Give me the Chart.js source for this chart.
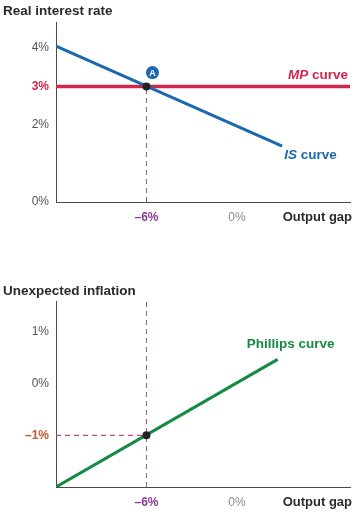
<!DOCTYPE html>
<html>
<head>
<meta charset="utf-8">
<script src="https://cdn.jsdelivr.net/npm/chart.js@4.4.1/dist/chart.umd.min.js"></script>
<style>
  body { margin: 0; background: #fff; width: 358px; height: 516px; overflow: hidden; }
  canvas { position: absolute; left: 0; }
  #isChart { top: 0; }
  #pcChart { top: 258px; }
</style>
</head>
<body>
<canvas id="isChart" width="358" height="230"></canvas>
<canvas id="pcChart" width="358" height="258"></canvas>
<script>
// Output gap axis (shared)
const gapRange = [-12, 7.5];
const gapTicks = [-6, 0];

// Top panel: IS / MP
const rateRange = [0, 4.68];
const rateTicks = [0, 2, 3, 4];
const isGap = [-12, 3];
const isRate = [4.05, 1.45];
const mpGap = [-12, 7.5];
const mpRate = [3, 3];
const pointA = { gap: -6, rate: 3 };

// Bottom panel: Phillips curve
const inflRange = [-2, 1.6];
const inflTicks = [-1, 0, 1];
const pcGap = [-12, 2.7];
const pcInfl = [-2, 0.47];
const pointB = { gap: -6, infl: -1 };

const BLUE = '#1a68b0', RED = '#d0284c', GREEN = '#148a45';
const PURPLE = '#9a4fa0', PURPLE_TXT = '#8b3a94', MAUVE = '#b5507a', ORANGE = '#c5582c';
const AXIS = '#4a4a4a', TICK = '#555';
const FONT = "'Liberation Sans', Arial, sans-serif";
const LBL = 'bold 13.5px ' + FONT, LBL_IT = 'italic bold 13.5px ' + FONT;

const pts = (xs, ys) => xs.map((x, i) => ({ x: x, y: ys[i] }));
const pct = v => (v < 0 ? '\u2013' + Math.abs(v) : v) + '%';

function xAxis(h) {
    return {
        type: 'linear', min: gapRange[0], max: gapRange[1],
        grid: { display: false, drawTicks: false },
        border: { display: true, color: AXIS, width: 1 },
        afterBuildTicks: s => { s.ticks = gapTicks.map(v => ({ value: v })); },
        afterFit: s => { s.height = h; },
        ticks: {
            padding: 8,
            callback: pct,
            color: c => c.tick && c.tick.value === -6 ? PURPLE_TXT : '#888',
            font: c => ({ family: FONT, size: 12, weight: c.tick && c.tick.value === -6 ? 'bold' : 'normal' })
        }
    };
}

function yAxis(range, ticks, hi, hiColor) {
    return {
        type: 'linear', min: range[0], max: range[1],
        grid: { display: false, drawTicks: false },
        border: { display: true, color: AXIS, width: 1 },
        afterBuildTicks: s => { s.ticks = ticks.map(v => ({ value: v })); },
        afterFit: s => { s.width = 56; },
        ticks: {
            padding: 7,
            callback: pct,
            color: c => c.tick && c.tick.value === hi ? hiColor : TICK,
            font: c => ({ family: FONT, size: 12, weight: c.tick && c.tick.value === hi ? 'bold' : 'normal' })
        }
    };
}

function text(ctx, str, x, y, font, color, align) {
    ctx.font = font;
    ctx.fillStyle = color;
    ctx.textAlign = align || 'left';
    ctx.textBaseline = 'middle';
    ctx.fillText(str, x, y);
}

const lineDs = (data, color, width, dash) => ({
    data: data, borderColor: color, borderWidth: width, borderDash: dash || [],
    pointRadius: 0, fill: false, tension: 0
});
const dotDs = (p) => ({
    data: [p], pointRadius: 4, pointBackgroundColor: '#222', pointBorderWidth: 0, showLine: false
});

// Set up the IS / MP chart
new Chart(document.getElementById('isChart'), {
    type: 'scatter',
    data: {
        datasets: [
            dotDs({ x: pointA.gap, y: pointA.rate }),
            lineDs(pts(isGap, isRate), BLUE, 3),
            lineDs(pts(mpGap, mpRate), RED, 3.5),
            lineDs([{ x: pointA.gap, y: 0 }, { x: pointA.gap, y: pointA.rate }], PURPLE, 1, [5, 4])
        ]
    },
    options: {
        responsive: false, animation: false, showLine: true,
        layout: { padding: { top: 22, right: 8, left: 0, bottom: 0 } },
        plugins: { legend: { display: false }, tooltip: { enabled: false } },
        scales: { x: xAxis(28), y: yAxis(rateRange, rateTicks, 3, RED) }
    },
    plugins: [{
        id: 'isLabels',
        afterDraw(chart) {
            const ctx = chart.ctx, x = chart.scales.x, y = chart.scales.y;
            ctx.save();
            text(ctx, 'Real interest rate', 3, 11, LBL, '#2b2b2b');
            text(ctx, 'Output gap', 352, y.bottom + 15, 'bold 13px ' + FONT, '#2b2b2b', 'right');
            // MP label
            const my = y.getPixelForValue(mpRate[1]) - 11;
            ctx.font = LBL;
            const cw = ctx.measureText(' curve').width;
            text(ctx, ' curve', 348, my, LBL, RED, 'right');
            text(ctx, 'MP', 348 - cw, my, LBL_IT, RED, 'right');
            // IS label
            const ix = x.getPixelForValue(isGap[1]) + 2, iy = y.getPixelForValue(isRate[1]) + 9;
            ctx.font = LBL_IT;
            const iw = ctx.measureText('IS').width;
            text(ctx, 'IS', ix, iy, LBL_IT, BLUE);
            text(ctx, ' curve', ix + iw, iy, LBL, BLUE);
            // badge A
            const ax = x.getPixelForValue(pointA.gap) + 6, ay = y.getPixelForValue(pointA.rate) - 14;
            ctx.beginPath();
            ctx.arc(ax, ay, 6.5, 0, Math.PI * 2);
            ctx.fillStyle = BLUE;
            ctx.fill();
            text(ctx, 'A', ax, ay + 0.5, 'bold 9px ' + FONT, '#fff', 'center');
            ctx.restore();
        }
    }]
});

// Set up the Phillips curve chart
new Chart(document.getElementById('pcChart'), {
    type: 'scatter',
    data: {
        datasets: [
            dotDs({ x: pointB.gap, y: pointB.infl }),
            lineDs(pts(pcGap, pcInfl), GREEN, 3),
            lineDs([{ x: pointB.gap, y: inflRange[0] }, { x: pointB.gap, y: inflRange[1] }], PURPLE, 1, [5, 4]),
            lineDs([{ x: gapRange[0], y: pointB.infl }, { x: pointB.gap, y: pointB.infl }], MAUVE, 1.2, [5, 4])
        ]
    },
    options: {
        responsive: false, animation: false, showLine: true,
        layout: { padding: { top: 43, right: 8, left: 0, bottom: 0 } },
        plugins: { legend: { display: false }, tooltip: { enabled: false } },
        scales: { x: xAxis(29), y: yAxis(inflRange, inflTicks, -1, ORANGE) }
    },
    plugins: [{
        id: 'pcLabels',
        afterDraw(chart) {
            const ctx = chart.ctx, x = chart.scales.x, y = chart.scales.y;
            ctx.save();
            text(ctx, 'Unexpected inflation', 3, 33, LBL, '#2b2b2b');
            text(ctx, 'Output gap', 352, y.bottom + 15, 'bold 13px ' + FONT, '#2b2b2b', 'right');
            const px = x.getPixelForValue(pcGap[1]), py = y.getPixelForValue(pcInfl[1]);
            text(ctx, 'Phillips curve', px + 13, py - 15, LBL, GREEN, 'center');
            ctx.restore();
        }
    }]
});
</script>
</body>
</html>
